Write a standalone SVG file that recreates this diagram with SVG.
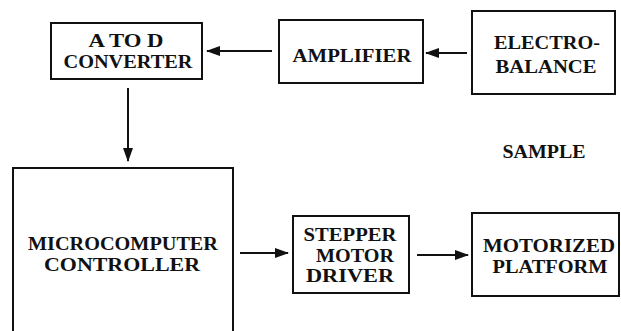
<svg xmlns="http://www.w3.org/2000/svg" width="621" height="331" viewBox="0 0 621 331">
<style>
.box{fill:none;stroke:#111;stroke-width:2}
.lbl{font-family:"Liberation Serif",serif;font-weight:bold;font-size:18px;fill:#111;text-anchor:middle}
.con{stroke:#111;stroke-width:2;fill:none;marker-end:url(#ah)}
</style>
<defs>
<marker id="ah" markerWidth="14" markerHeight="10" refX="13" refY="5" orient="auto" markerUnits="userSpaceOnUse">
<path d="M0,0 L14,5 L0,10 Z" fill="#111"/>
</marker>
</defs>
<rect width="621" height="331" fill="#fff"/>
<g id="atod">
<rect class="box" x="51" y="23" width="151" height="56"/>
<text class="lbl" x="126" y="47" textLength="75" lengthAdjust="spacingAndGlyphs">A TO D</text>
<text class="lbl" x="128" y="68" textLength="129" lengthAdjust="spacingAndGlyphs">CONVERTER</text>
</g>
<g id="amplifier">
<rect class="box" x="279" y="20" width="144" height="63"/>
<text class="lbl" x="352" y="62" textLength="119" lengthAdjust="spacingAndGlyphs">AMPLIFIER</text>
</g>
<g id="electrobalance">
<rect class="box" x="472" y="11" width="143" height="83"/>
<text class="lbl" x="547" y="49" textLength="106" lengthAdjust="spacingAndGlyphs">ELECTRO-</text>
<text class="lbl" x="546" y="73" textLength="101" lengthAdjust="spacingAndGlyphs">BALANCE</text>
</g>
<g id="sample">
<text class="lbl" x="544" y="158" textLength="83" lengthAdjust="spacingAndGlyphs">SAMPLE</text>
</g>
<g id="microcomputer">
<path class="box" d="M13,331 V168 H233 V331"/>
<text class="lbl" x="123" y="250" textLength="190" lengthAdjust="spacingAndGlyphs">MICROCOMPUTER</text>
<text class="lbl" x="122" y="271" textLength="156" lengthAdjust="spacingAndGlyphs">CONTROLLER</text>
</g>
<g id="stepper">
<rect class="box" x="293" y="216" width="116" height="77"/>
<text class="lbl" x="350" y="241" textLength="93" lengthAdjust="spacingAndGlyphs">STEPPER</text>
<text class="lbl" x="355" y="262" textLength="78" lengthAdjust="spacingAndGlyphs">MOTOR</text>
<text class="lbl" x="350" y="282" textLength="88" lengthAdjust="spacingAndGlyphs">DRIVER</text>
</g>
<g id="motorized">
<rect class="box" x="472" y="213" width="147" height="83"/>
<text class="lbl" x="549" y="252" textLength="132" lengthAdjust="spacingAndGlyphs">MOTORIZED</text>
<text class="lbl" x="550" y="273" textLength="115" lengthAdjust="spacingAndGlyphs">PLATFORM</text>
</g>
<g id="connectors">
<line class="con" x1="272" y1="51" x2="207" y2="51"/>
<line class="con" x1="467" y1="53" x2="426" y2="53"/>
<line class="con" x1="128" y1="88" x2="128" y2="161"/>
<line class="con" x1="240" y1="253" x2="288" y2="253"/>
<line class="con" x1="417" y1="255" x2="468" y2="255"/>
</g>
</svg>
